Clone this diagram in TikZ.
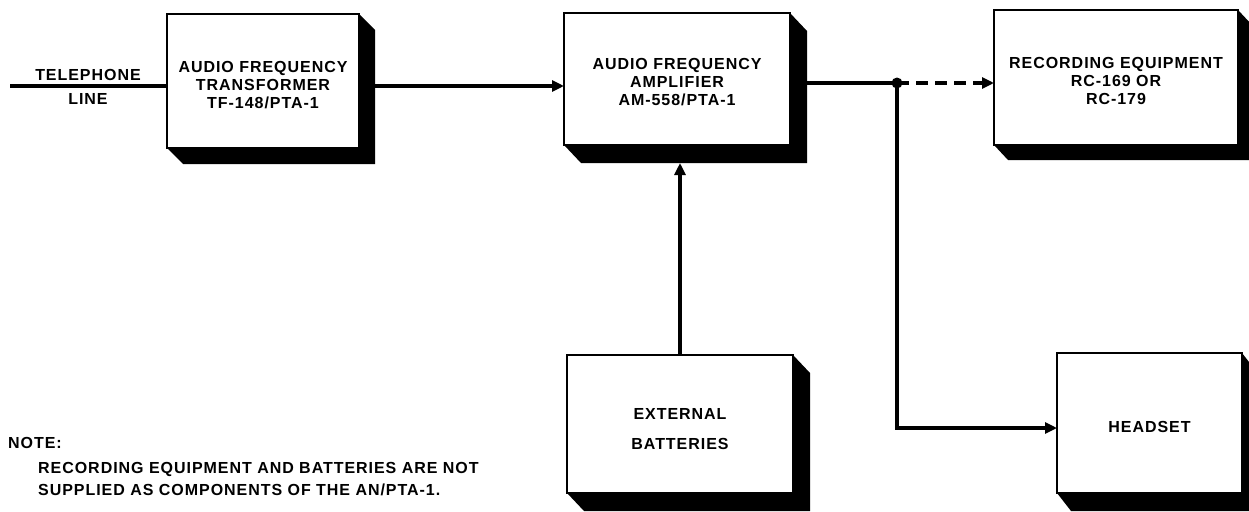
\documentclass[tikz,border=0pt]{standalone}
\usepackage{fontspec}
\setmainfont{Liberation Sans}[LetterSpace=6.0]
\usetikzlibrary{arrows.meta,calc}
\newcommand\dropshade[3]{\fill (#1.north east) -- ($(#1.north east)+(#2,#3)$) -- ($(#1.south east)+(#2,#3)$) -- ($(#1.south west)+(#2,#3)$) -- (#1.south west) -- (#1.south east) -- cycle;}
\begin{document}
\begin{tikzpicture}[x=1pt,y=-1pt,
  txt/.style={font=\bfseries\fontsize{16}{18}\selectfont, align=center},
  face/.style={draw, line width=2.4pt, fill=white, inner sep=0pt, outer sep=0pt},
  lbl/.style={txt, inner sep=0pt},
  conn/.style={line width=3.2pt},
  arr/.style={conn, -{Triangle[length=12pt,width=11pt]}}]
\useasboundingbox (0,0) rectangle (1249,511);
% boxes
\node[face, minimum width=192pt, minimum height=134pt] (b1) at (263,81) {};
\node[face, minimum width=226pt, minimum height=132pt] (b2) at (677,79) {};
\node[face, minimum width=244pt, minimum height=135pt] (b3) at (1116,77.5) {};
\node[face, minimum width=226pt, minimum height=138pt] (b4) at (680,424) {};
\node[face, minimum width=185pt, minimum height=140pt] (b5) at (1149.5,423) {};
\dropshade{b1}{16}{16}
\dropshade{b2}{17}{18}
\dropshade{b3}{14}{15}
\dropshade{b4}{17}{18}
\dropshade{b5}{14}{18}
% box texts
\node[lbl] (b1t) at ($(b1.center)+(0,4)$) {AUDIO FREQUENCY\\TRANSFORMER\\TF-148/PTA-1};
\node[lbl] (b2t) at ($(b2.center)+(0,3)$) {AUDIO FREQUENCY\\AMPLIFIER\\AM-558/PTA-1};
\node[lbl] (b3t) at ($(b3.center)+(0,3.5)$) {RECORDING EQUIPMENT\\RC-169 OR\\RC-179};
\node[lbl] (b4t) at ($(b4.center)+(0,5)$) {EXTERNAL\\[12pt]BATTERIES};
\node[lbl] (b5t) at ($(b5.center)+(0,4)$) {HEADSET};
% junction
\node[circle, fill, inner sep=0pt, minimum size=11pt] (j) at (897,83) {};
% labels
\node[lbl] (tel) at (88,87) {TELEPHONE\\[6pt]LINE};
\node[lbl, anchor=west] (note) at (8,443) {NOTE:};
\node[lbl, anchor=west, align=left] (notetext) at (38,479)
  {RECORDING EQUIPMENT AND BATTERIES ARE NOT\\[4pt]SUPPLIED AS COMPONENTS OF THE AN/PTA-1.};
% connectors
\coordinate (tl) at (10,86);
\draw[conn] (tl) -- (tl -| b1.west);
\coordinate (b1o) at ($(b1.east)+(16,5)$);
\draw[arr] (b1o) -- (b1o -| b2.west);
\coordinate (b2o) at ($(b2.east)+(17,4)$);
\draw[conn] (b2o) -- (j.center);
\draw[arr, dash pattern=on 12pt off 7pt] (j.center) -- (j.center -| b3.west);
\coordinate (hk) at (897,428);
\draw[arr, line join=miter] (j.center) -- (hk) -- (hk -| b5.west);
\coordinate (b2sb) at ($(b2.south)+(0,18)$);
\draw[arr] (b4.north) -- (b4.north |- b2sb);
\end{tikzpicture}
\end{document}
